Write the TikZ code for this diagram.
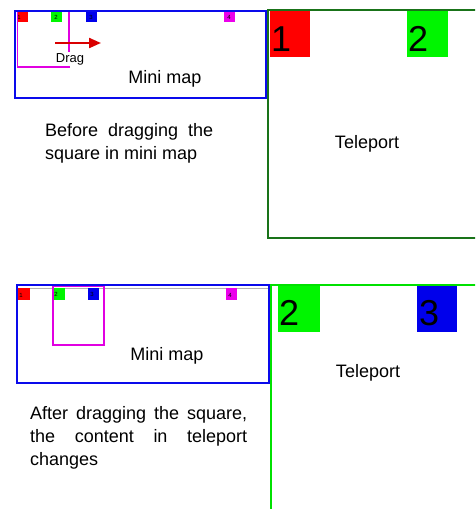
\documentclass[tikz,border=0pt]{standalone}
\usepackage{fontspec}
\setmainfont{Liberation Sans}
\usetikzlibrary{arrows.meta}
\definecolor{mapblue}{RGB}{10,10,235}
\definecolor{darkgr}{RGB}{25,115,25}
\definecolor{brightgr}{RGB}{0,225,0}
\definecolor{sqred}{RGB}{255,0,0}
\definecolor{sqgreen}{RGB}{0,245,0}
\definecolor{sqblue}{RGB}{0,0,235}
\definecolor{sqmag}{RGB}{235,0,235}
\definecolor{dragmag}{RGB}{225,0,225}
\tikzset{
  minibox/.style={draw=mapblue, line width=2pt},
  dragbox/.style={draw=dragmag, line width=1.3pt},
  tiny/.style={font=\fontsize{6}{6}\selectfont, inner sep=0pt},
  bignum/.style={font=\fontsize{36}{36}\selectfont, inner sep=0pt, anchor=base west},
  lbl/.style={font=\fontsize{18}{18}\selectfont, inner sep=0pt, anchor=base},
  para/.style={font=\fontsize{18}{23}\selectfont, inner sep=0pt, anchor=north west, align=justify},
}
\begin{document}
\begin{tikzpicture}[x=1pt,y=-1pt]
\useasboundingbox (0,0) rectangle (475,509);
\clip (0,0) rectangle (475,509);
% ---------- top panel ----------
% teleport (before)
\draw[darkgr, line width=2pt] (268,10) rectangle (490,238);
\fill[sqred] (270,11) rectangle (310,57);
\fill[sqgreen] (407,11) rectangle (448,57);
\node[bignum] (t1) at (271,51) {1};
\node[bignum] (t2) at (408,51) {2};
\node[lbl] (tel1) at (367,148) {Teleport};
% mini map (before)
\fill[white] (15,11) rectangle (266,98);
\fill[sqred] (17,12) rectangle (28,22);
\fill[sqgreen] (51,12) rectangle (62,22);
\fill[sqblue] (86,12) rectangle (97,22);
\fill[sqmag] (224,12) rectangle (235,22);
\node[tiny] (m1a) at (19,17) {1};
\node[tiny] (m2a) at (56,17) {2};
\node[tiny] (m3a) at (91,17) {3};
\node[tiny] (m4a) at (229,17) {4};
\draw[dragbox] (17.5,11) rectangle (69,67);
\node[font=\fontsize{13}{13}\selectfont, fill=white, inner sep=1pt, anchor=base] (drag) at (70,62) {Drag};
\coordinate (as) at (55,43);
\coordinate (ae) at (101,43);
\draw[sqred!85!black, line width=2.2pt, -{Triangle[length=12pt,width=10pt]}] (as) -- (ae);
\node[lbl] (mm1) at (165,83) {Mini map};
\draw[minibox] (15,11) rectangle (266,98);
\node[para, text width=168pt] (txt1) at (45,123) {Before dragging the square in mini map};
% ---------- bottom panel ----------
% teleport (after)
\draw[brightgr, line width=2pt] (271,285) rectangle (490,530);
\fill[sqgreen] (278,286) rectangle (320,332);
\fill[sqblue] (417,286) rectangle (457,332);
\node[bignum] (t2b) at (279,325) {2};
\node[bignum] (t3b) at (419,325) {3};
\node[lbl] (tel2) at (368,377) {Teleport};
% mini map (after)
\fill[white] (17,285) rectangle (269,383);
\draw[gray!60, line width=0.6pt] (18,288.5) -- (268,288.5);
\fill[sqred] (18,288) rectangle (30,300);
\fill[sqgreen] (53,288) rectangle (65,300);
\fill[sqblue] (88,288) rectangle (99,300);
\fill[sqmag] (226,288) rectangle (237,300);
\node[tiny] (m1b) at (21,295) {1};
\node[tiny] (m2b) at (56,294) {2};
\node[tiny] (m3b) at (92,294) {3};
\node[tiny] (m4b) at (230,295) {4};
\draw[dragbox] (53,286) rectangle (104,345);
\node[lbl] (mm2) at (167,360) {Mini map};
\draw[minibox] (17,285) rectangle (269,383);
\node[para, text width=217pt] (txt2) at (30,406) {After dragging the square, the content in teleport changes};
\end{tikzpicture}
\end{document}
